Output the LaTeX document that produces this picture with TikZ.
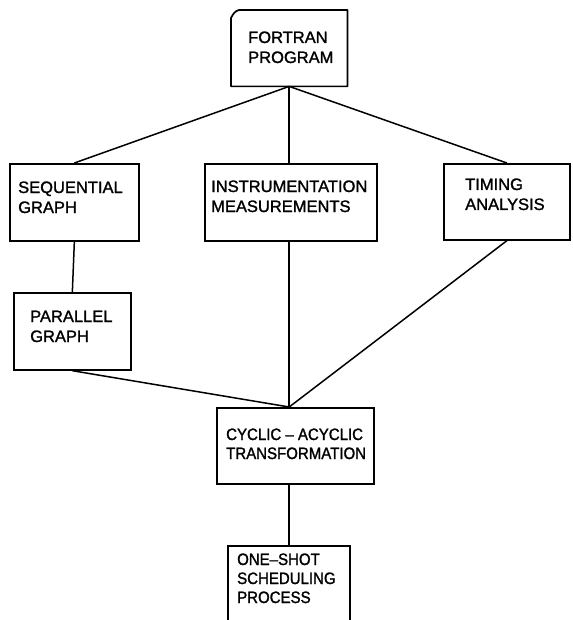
\documentclass[tikz,border=0pt]{standalone}
\usepackage{fontspec}
\setmainfont{Liberation Sans}
\newfontfamily\lettering{Liberation Sans}[FakeBold=1.4]
\newfontfamily\letteringnarrow{Liberation Sans}[FakeBold=1.4,FakeStretch=0.91]
\begin{document}
\begin{tikzpicture}[x=1pt,y=-1pt,
  boxshape/.style={draw, line width=1.7pt, inner sep=0pt, anchor=north west},
  label/.style={anchor=base west, inner sep=0pt, align=left, font=\lettering\fontsize{16.5}{20}\selectfont},
  narrowlabel/.style={label, font=\letteringnarrow\fontsize{16.5}{19}\selectfont},
  link/.style={line width=1.5pt}]
\useasboundingbox (0,0) rectangle (572,620);
% boxes
\node[inner sep=0pt, anchor=north west, minimum width=116pt, minimum height=76pt] (fort) at (231,10) {};
\draw[line width=1.7pt, line join=round] ([yshift=-8pt]fort.north west) .. controls ([xshift=2pt,yshift=-4pt]fort.north west) and ([xshift=4pt,yshift=-1pt]fort.north west) .. ([xshift=8pt]fort.north west)
  -- (fort.north east) -- (fort.south east) -- (fort.south west) -- cycle;
\node[boxshape, minimum width=129pt, minimum height=77pt] (seq) at (9,163) {};
\node[boxshape, minimum width=172pt, minimum height=77pt] (inst) at (204,163) {};
\node[boxshape, minimum width=126pt, minimum height=76pt] (tim) at (443,163) {};
\node[boxshape, minimum width=117pt, minimum height=77pt] (par) at (13,292) {};
\node[boxshape, minimum width=157pt, minimum height=76pt] (cyc) at (216,407) {};
\node[boxshape, minimum width=122pt, minimum height=80pt] (one) at (227,545) {};
% labels (base = last line)
\node[label] (fortt) at (248,63) {FORTRAN\\PROGRAM};
\node[label] (seqt) at (18,213) {SEQUENTIAL\\GRAPH};
\node[label] (instt) at (211,212) {INSTRUMENTATION\\MEASUREMENTS};
\node[label] (timt) at (465,210) {TIMING\\ANALYSIS};
\node[label] (part) at (30,342) {PARALLEL\\GRAPH};
\node[narrowlabel] (cyct) at (226,459) {CYCLIC – ACYCLIC\\TRANSFORMATION};
\node[narrowlabel] (onet) at (237,603) {ONE–SHOT\\SCHEDULING\\PROCESS};
% connectors
\coordinate (meet) at (cyc.north -| fort.south);
\draw[link] (fort.south) -- (seq.north);
\draw[link] (fort.south) -- (inst.north -| fort.south);
\draw[link] (fort.south) -- (tim.north);
\draw[link] (seq.south) -- (par.north);
\draw[link] (par.south) -- (meet);
\draw[link] (inst.south -| fort.south) -- (meet);
\draw[link] (tim.south) -- (meet);
\draw[link] (cyc.south -| fort.south) -- (one.north -| fort.south);
\end{tikzpicture}
\end{document}
